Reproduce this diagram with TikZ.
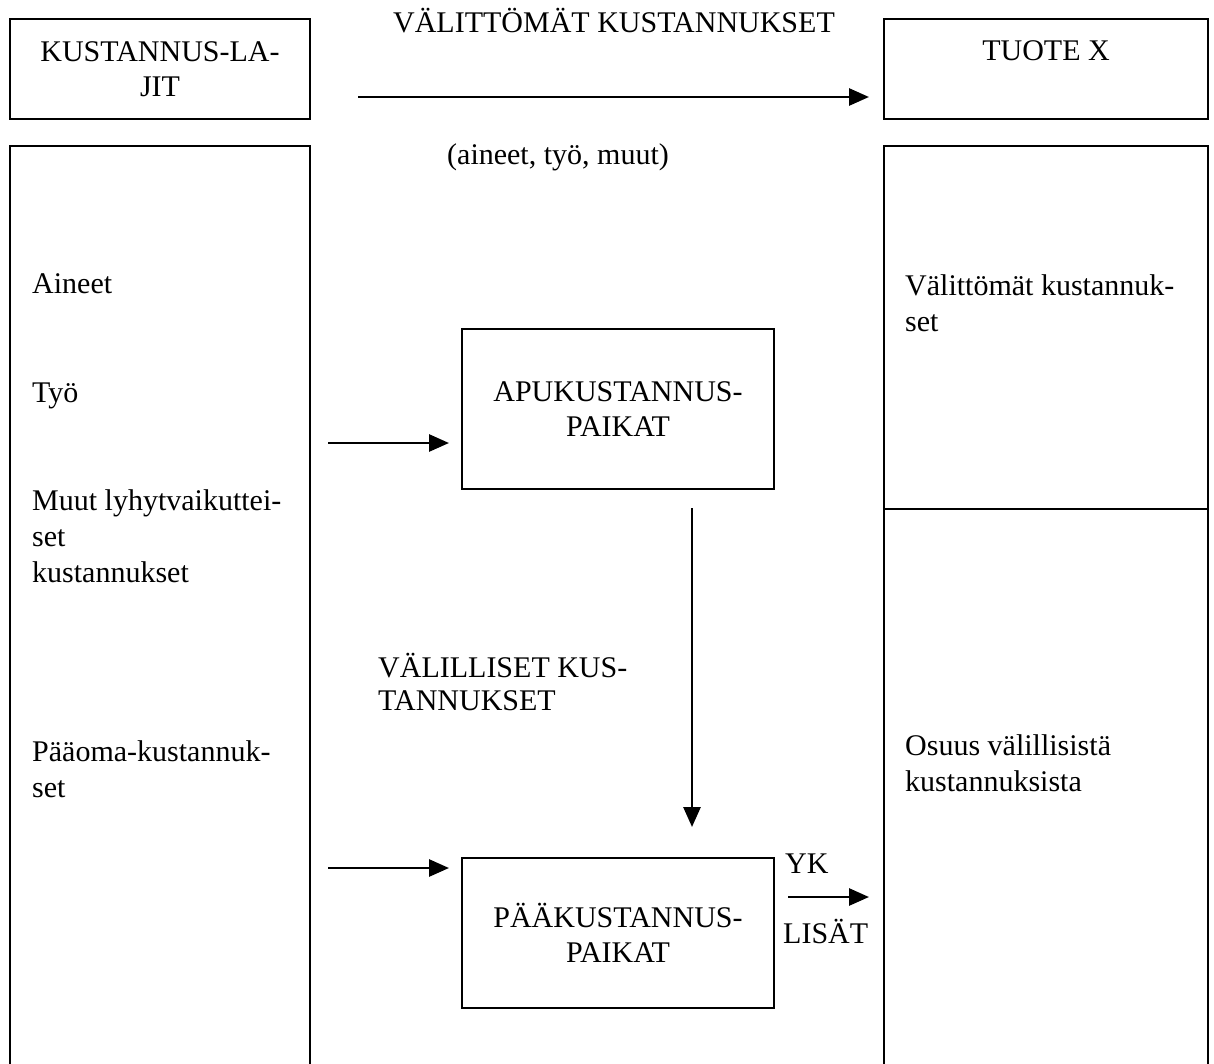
\documentclass[tikz,border=0pt]{standalone}
\usepackage{fontspec}
\setmainfont{Liberation Serif}
\usetikzlibrary{arrows.meta}
\begin{document}
\begin{tikzpicture}[x=1pt,y=-1pt,
  box/.style={draw, line width=2pt, inner sep=0pt, align=center, font=\fontsize{30}{35}\selectfont},
  arr/.style={line width=2.8pt, -{Triangle[length=20pt,width=17pt]}},
  txt/.style={inner sep=0pt, anchor=base west, font=\fontsize{30}{35}\selectfont},
  ctxt/.style={inner sep=0pt, anchor=base, font=\fontsize{30}{35}\selectfont}
]
\useasboundingbox (0,0) rectangle (1214,1063);
\clip (0,0) rectangle (1214,1063);
% top boxes
\node[box, minimum width=300pt, minimum height=100pt] (lajit) at (160,69) {KUSTANNUS-LA-\\JIT};
\node[box, minimum width=324pt, minimum height=100pt] (tuote) at (1046,69) {};
\node[ctxt] (tuotet) at (1046,60) {TUOTE X};
% big side boxes (running past the bottom)
\node[box, minimum width=300pt, minimum height=940pt, anchor=north] (left) at (160,145) {};
\node[box, minimum width=324pt, minimum height=363pt, anchor=north] (rtop) at (1046,145) {};
\node[box, minimum width=324pt, minimum height=580pt, anchor=north] (rbot) at (1046,508) {};
% middle boxes
\node[box, minimum width=312pt, minimum height=160pt] (apu) at (618,409) {APUKUSTANNUS-\\PAIKAT};
\node[box, minimum width=312pt, minimum height=150pt] (paa) at (618,933) {PÄÄKUSTANNUS-\\PAIKAT};
% texts
\node[ctxt] (vk) at (614,32) {VÄLITTÖMÄT KUSTANNUKSET};
\node[ctxt] (atm) at (558,164) {(aineet, työ, muut)};
\node[txt] (t1) at (32,293) {Aineet};
\node[txt] (t2) at (32,402) {Työ};
\node[txt] (t3) at (32,510) {Muut lyhytvaikuttei-};
\node[txt] (t4) at (32,546) {set};
\node[txt] (t5) at (32,582) {kustannukset};
\node[txt] (t6) at (32,761) {Pääoma-kustannuk-};
\node[txt] (t7) at (32,797) {set};
\node[txt] (r1) at (905,295) {Välittömät kustannuk-};
\node[txt] (r2) at (905,331) {set};
\node[txt] (r3) at (905,755) {Osuus välillisistä};
\node[txt] (r4) at (905,791) {kustannuksista};
\node[txt] (v1) at (378,677) {VÄLILLISET KUS-};
\node[txt] (v2) at (378,710) {TANNUKSET};
\node[txt] (yk) at (785,873) {YK};
\node[txt] (lis) at (783,943) {LISÄT};
% connectors
\coordinate (a1) at (358,97);
\draw[arr, shorten >=14pt] (a1) -- (tuote.west |- a1);
\coordinate (a2) at (328,443);
\draw[arr, shorten >=12pt] (a2) -- (apu.west |- a2);
\coordinate (a3) at (328,868);
\draw[arr, shorten >=12pt] (a3) -- (paa.west |- a3);
\coordinate (a4) at (692,508);
\draw[arr, shorten >=30pt] (a4) -- (paa.north -| a4);
\coordinate (a5) at (788,897);
\draw[arr, shorten >=14pt] (a5) -- (rbot.west |- a5);
\end{tikzpicture}
\end{document}
